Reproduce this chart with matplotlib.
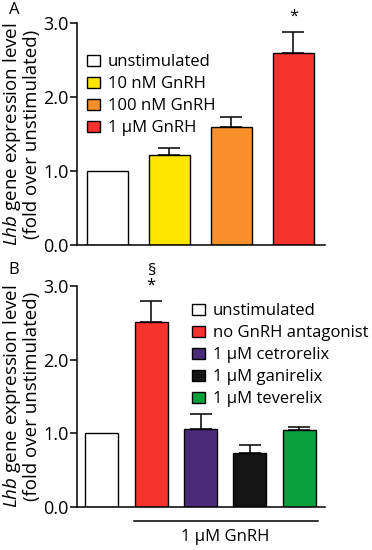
import matplotlib
matplotlib.use("Agg")
import matplotlib.pyplot as plt
from matplotlib.patches import Patch

plt.rcParams['font.family'] = ['Open Sans', 'DejaVu Sans']
plt.rcParams['mathtext.fontset'] = 'custom'
plt.rcParams['mathtext.rm'] = 'Open Sans'
plt.rcParams['mathtext.it'] = 'Open Sans:italic'

# Panel A data
a_labels = ["unstimulated", "10 nM GnRH", "100 nM GnRH", "1 µM GnRH"]
a_values = [1.0, 1.21, 1.60, 2.59]
a_errors = [0.0, 0.10, 0.13, 0.29]
a_colors = ["#ffffff", "#ffe600", "#f7902a", "#f5332c"]

# Panel B data
b_labels = ["unstimulated", "no GnRH antagonist", "1 µM cetrorelix",
            "1 µM ganirelix", "1 µM teverelix"]
b_values = [1.0, 2.51, 1.05, 0.73, 1.04]
b_errors = [0.0, 0.28, 0.21, 0.11, 0.05]
b_colors = ["#ffffff", "#f5332c", "#4a2b7a", "#141414", "#0aa03c"]

yticks = [0.0, 1.0, 2.0, 3.0]
ytick_labels = ["0.0", "1.0", "2.0", "3.0"]
ylabel = "$\\mathit{Lhb}$ gene expression level\n(fold over unstimulated)"

W, H = 372, 550
fig = plt.figure(figsize=(W / 100, H / 100), dpi=100)

LEG_FS = 12
TICK_FS = 13


def fx(px):
    return px / W


def fy(py):
    return 1 - py / H


def style_axes(ax):
    ax.spines['top'].set_visible(False)
    ax.spines['right'].set_visible(False)
    ax.spines['left'].set_linewidth(1.1)
    ax.spines['bottom'].set_linewidth(1.1)
    ax.set_ylim(0, 3.0)
    ax.set_yticks(yticks)
    ax.set_yticklabels(ytick_labels, fontsize=TICK_FS)
    ax.tick_params(axis='y', length=5, width=1.1, pad=1)
    ax.set_xticks([])
    ax.set_ylabel(ylabel, fontsize=13.5, labelpad=2, linespacing=0.95)


# ---- Panel A ----
axA = fig.add_axes([fx(77), fy(245), fx(325 - 77), fy(23) - fy(245)])
xa = list(range(len(a_values)))
axA.bar(xa, a_values, width=0.66, color=a_colors, edgecolor='black', linewidth=1.0, zorder=2)
axA.errorbar(xa[1:], a_values[1:], yerr=[[0] * 3, a_errors[1:]], fmt='none',
             ecolor='black', elinewidth=1.1, capsize=8, capthick=1.1, zorder=1)
axA.set_xlim(-0.49, 3.51)
style_axes(axA)
axA.text(3, a_values[3] + a_errors[3] + 0.1, "*", ha='center', va='bottom', fontsize=12, clip_on=False)
hA = [Patch(facecolor=c, edgecolor='black', linewidth=1.0) for c in a_colors]
axA.legend(hA, a_labels, loc='upper left', bbox_to_anchor=(fx(87), fy(54)),
           bbox_transform=fig.transFigure, frameon=False, fontsize=LEG_FS,
           handlelength=0.8, handleheight=0.65, handletextpad=0.45,
           labelspacing=0.36, borderpad=0, borderaxespad=0)
fig.text(fx(14), fy(10), "A", fontsize=12, ha='center', va='center')

# ---- Panel B ----
axB = fig.add_axes([fx(77), fy(506.7), fx(325 - 77), fy(286) - fy(506.7)])
xb = list(range(len(b_values)))
axB.bar(xb, b_values, width=0.67, color=b_colors, edgecolor='black', linewidth=1.0, zorder=2)
axB.errorbar(xb[1:], b_values[1:], yerr=[[0] * 4, b_errors[1:]], fmt='none',
             ecolor='black', elinewidth=1.1, capsize=8, capthick=1.1, zorder=1)
axB.set_xlim(-0.5, 4.52)
style_axes(axB)
axB.text(1, b_values[1] + b_errors[1] + 0.1, "§\n*", ha='center', va='bottom',
         fontsize=12, linespacing=0.9, clip_on=False)
hB = [Patch(facecolor=c, edgecolor='black', linewidth=1.0) for c in b_colors]
axB.legend(hB, b_labels, loc='upper left', bbox_to_anchor=(fx(192), fy(303)),
           bbox_transform=fig.transFigure, frameon=False, fontsize=LEG_FS,
           handlelength=0.8, handleheight=0.65, handletextpad=0.45,
           labelspacing=0.36, borderpad=0, borderaxespad=0)
fig.text(fx(14), fy(270), "B", fontsize=12, ha='center', va='center')

# GnRH bracket line under bars 1..4
axB.plot([0.65, 4.38], [-0.2, -0.2], color='black', linewidth=1.1, clip_on=False,
         transform=axB.transData)
axB.text(2.5, -0.3, "1 µM GnRH", ha='center', va='top', fontsize=LEG_FS, clip_on=False)

fig.savefig("out.png", dpi=100)
